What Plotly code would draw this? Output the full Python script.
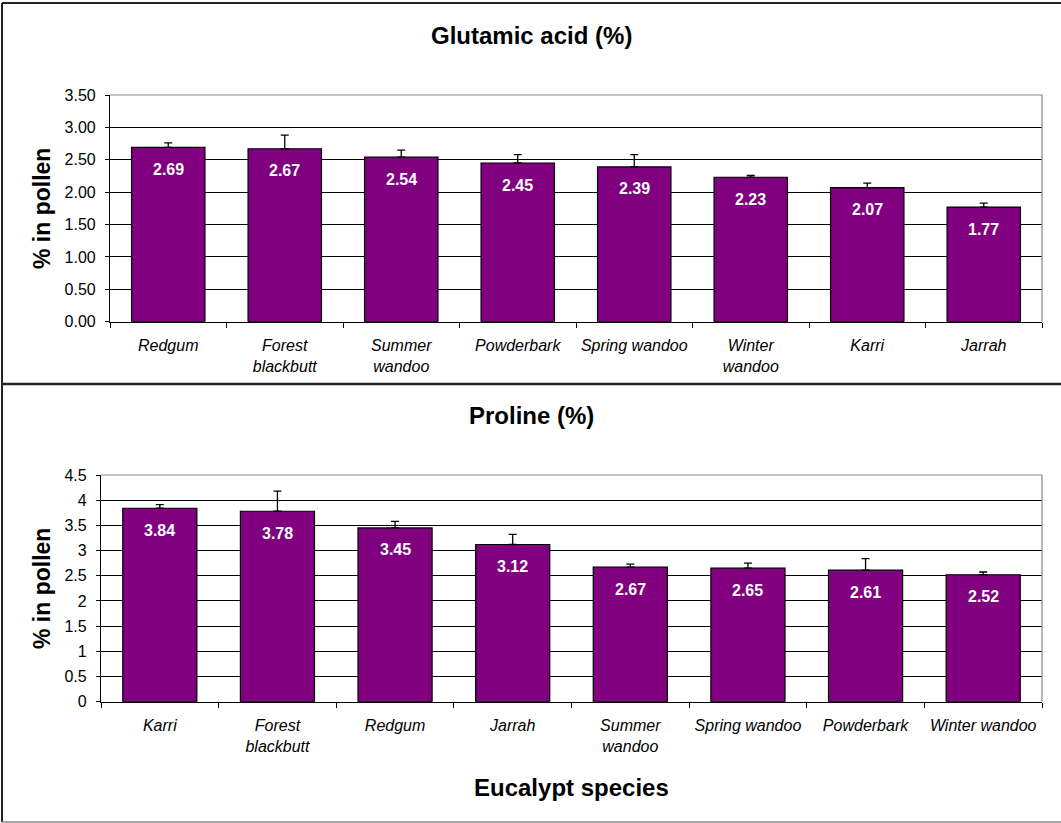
import plotly.graph_objects as go

W, H = 1061, 823

# ---- Data ----
glu_species = ["Redgum", "Forest<br>blackbutt", "Summer<br>wandoo", "Powderbark",
               "Spring wandoo", "Winter<br>wandoo", "Karri", "Jarrah"]
glu_values = [2.69, 2.67, 2.54, 2.45, 2.39, 2.23, 2.07, 1.77]
glu_err = [0.07, 0.21, 0.11, 0.13, 0.19, 0.03, 0.07, 0.06]
glu_ticks = [0, 0.5, 1.0, 1.5, 2.0, 2.5, 3.0, 3.5]
glu_ticklabels = ["0.00", "0.50", "1.00", "1.50", "2.00", "2.50", "3.00", "3.50"]

pro_species = ["Karri", "Forest<br>blackbutt", "Redgum", "Jarrah", "Summer<br>wandoo",
               "Spring wandoo", "Powderbark", "Winter wandoo"]
pro_values = [3.84, 3.78, 3.45, 3.12, 2.67, 2.65, 2.61, 2.52]
pro_err = [0.07, 0.40, 0.13, 0.20, 0.06, 0.10, 0.23, 0.055]
pro_ticks = [0, 0.5, 1, 1.5, 2, 2.5, 3, 3.5, 4, 4.5]
pro_ticklabels = ["0", "0.5", "1", "1.5", "2", "2.5", "3", "3.5", "4", "4.5"]

FONT = "Liberation Sans, Arial, sans-serif"
PURPLE = "#800080"

def px_x(p):
    return p / W

def px_y(p):
    return 1 - p / H

fig = go.Figure()

def add_bars(cats, vals, errs, xa, ya):
    fig.add_trace(go.Bar(
        x=cats, y=vals, xaxis=xa, yaxis=ya,
        marker=dict(color=PURPLE, line=dict(color="black", width=1.2)),
        error_y=dict(type="data", array=errs, arrayminus=[0] * len(errs),
                     symmetric=False, color="black", thickness=1.3, width=4),
        hoverinfo="x+y", showlegend=False,
    ))

add_bars(glu_species, glu_values, glu_err, "x", "y")
add_bars(pro_species, pro_values, pro_err, "x2", "y2")

# value labels inside bars
annotations = []
for cats, vals, xr, yr in [(glu_species, glu_values, "x", "y"),
                           (pro_species, pro_values, "x2", "y2")]:
    for c, v in zip(cats, vals):
        annotations.append(dict(
            x=c, y=v, xref=xr, yref=yr, text=f"<b>{v:.2f}</b>", showarrow=False,
            xanchor="center", yanchor="middle",
            yshift=-22, font=dict(family=FONT, size=16, color="white"),
        ))

def lab(x, y, text, size=22, angle=0):
    return dict(x=px_x(x), y=px_y(y), xref="paper", yref="paper", text=text,
                textangle=angle, showarrow=False, xanchor="center", yanchor="middle",
                font=dict(family=FONT, size=size, color="black"))

annotations += [
    lab(531, 35, "<b>Glutamic acid (%)</b>", 24),
    lab(531, 415, "<b>Proline (%)</b>", 24),
    lab(571, 787, "<b>Eucalypt species</b>", 24),
    lab(42, 209, "<b>% in pollen</b>", 23, -90),
    lab(42, 589, "<b>% in pollen</b>", 23, -90),
]

xcommon = dict(type="category", showline=True, linecolor="black", linewidth=1.2,
               ticks="outside", ticklen=5, tickcolor="black", tickson="boundaries",
               showgrid=False, ticklabelstandoff=9, automargin=False,
               tickfont=dict(family=FONT, size=16, color="black", style="italic"))
ycommon = dict(showline=True, linecolor="black", linewidth=1.2, ticks="outside",
               ticklen=4, tickcolor="black", showgrid=True, gridcolor="black",
               gridwidth=1, zeroline=False, ticklabelstandoff=6, automargin=False,
               tickfont=dict(family=FONT, size=16, color="black"))

top_x = [px_x(110), px_x(1042)]
top_y = [px_y(321.7), px_y(95)]
bot_x = [px_x(101), px_x(1042)]
bot_y = [px_y(701.7), px_y(475)]

shapes = [
    dict(type="path", xref="paper", yref="paper", layer="above",
         path=f"M {top_x[0]},{top_y[1]} L {top_x[1]},{top_y[1]} L {top_x[1]},{top_y[0]}",
         line=dict(color="#888", width=1.2)),
    dict(type="path", xref="paper", yref="paper", layer="above",
         path=f"M {bot_x[0]},{bot_y[1]} L {bot_x[1]},{bot_y[1]} L {bot_x[1]},{bot_y[0]}",
         line=dict(color="#888", width=1.2)),
    dict(type="line", xref="paper", yref="paper", x0=px_x(2), x1=px_x(2), y0=px_y(3), y1=px_y(822),
         line=dict(color="#222", width=2)),
    dict(type="line", xref="paper", yref="paper", x0=px_x(2), x1=1, y0=px_y(3), y1=px_y(3),
         line=dict(color="#222", width=2)),
    dict(type="line", xref="paper", yref="paper", x0=px_x(2), x1=1, y0=px_y(384), y1=px_y(384),
         line=dict(color="#222", width=2.5)),
    dict(type="line", xref="paper", yref="paper", x0=px_x(2), x1=1, y0=px_y(822), y1=px_y(822),
         line=dict(color="#888", width=1.5)),
]

fig.update_layout(
    template="none",
    width=W, height=H, margin=dict(l=0, r=0, t=0, b=0, autoexpand=False),
    paper_bgcolor="white", plot_bgcolor="white",
    bargap=0.37, showlegend=False,
    font=dict(family=FONT, color="black"),
    xaxis=dict(domain=top_x, anchor="y", **xcommon),
    yaxis=dict(domain=top_y, anchor="x", range=[0, 3.5], tickvals=glu_ticks,
               ticktext=glu_ticklabels, **ycommon),
    xaxis2=dict(domain=bot_x, anchor="y2", **xcommon),
    yaxis2=dict(domain=bot_y, anchor="x2", range=[0, 4.5], tickvals=pro_ticks,
                ticktext=pro_ticklabels, **ycommon),
    annotations=annotations, shapes=shapes,
)

fig.write_html("out.html", config={"displayModeBar": False},
               post_script="document.body.style.margin='0';document.body.style.overflow='hidden';")
